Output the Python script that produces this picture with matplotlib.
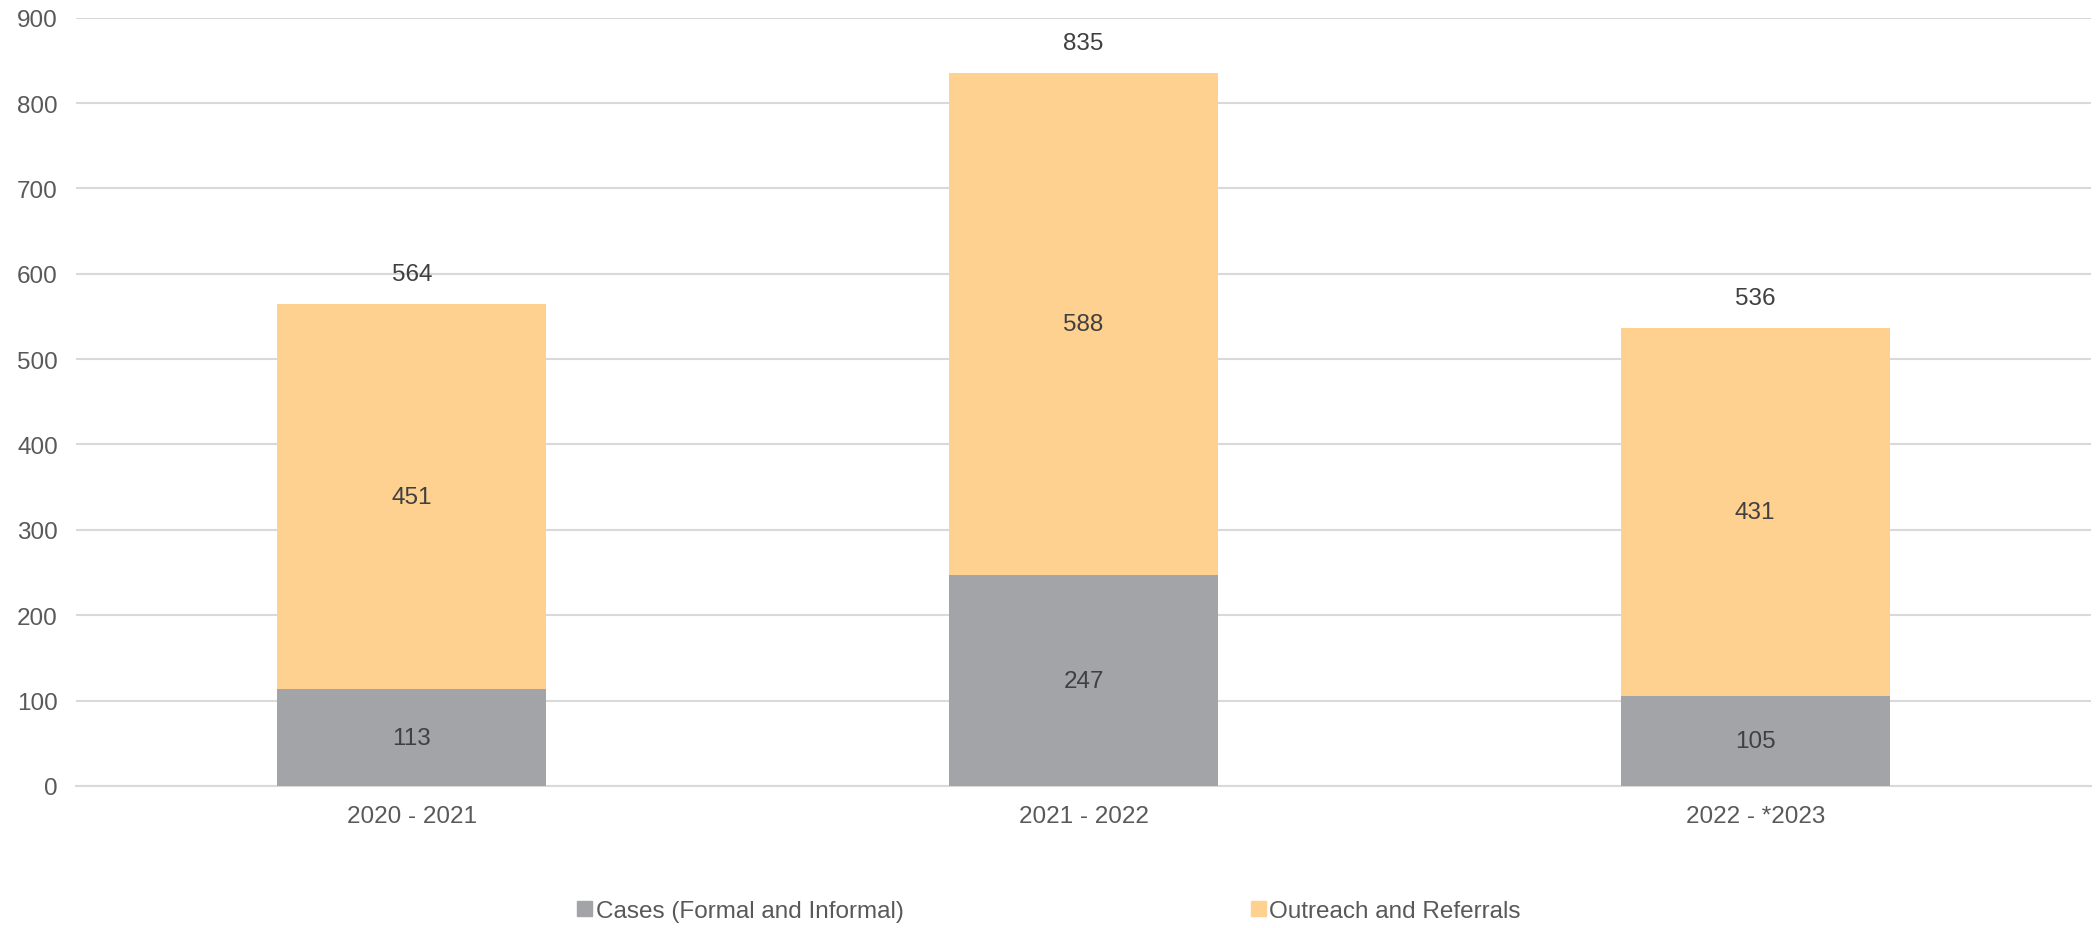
import matplotlib.pyplot as plt
import matplotlib.patches as mpatches
import numpy as np

plt.rcParams["font.family"] = ["Liberation Sans", "DejaVu Sans"]

years = ["2020 - 2021", "2021 - 2022", "2022 - *2023"]
cases = [113, 247, 105]
outreach = [451, 588, 431]
totals = [564, 835, 536]

GRAY = "#A2A4A8"
ORANGE = "#FED190"
GRID = "#D9D9D9"
TICK = "#595959"
LABEL = "#404040"
FS = 17.5

fig = plt.figure(figsize=(20.98, 9.29), dpi=100)
ax = fig.add_axes([0.0362, 0.1529, 0.9605, 0.827])

x = np.arange(len(years))
width = 0.4
b1 = ax.bar(x, cases, width, color=GRAY, zorder=3)
b2 = ax.bar(x, outreach, width, bottom=cases, color=ORANGE, zorder=3)

# segment values centred inside each stack piece
for rect, v in zip(b1, cases):
    ax.text(rect.get_x() + rect.get_width() / 2, v / 2, str(v),
            ha="center", va="center", fontsize=FS, color=LABEL, zorder=4)
for rect, c, v in zip(b2, cases, outreach):
    ax.text(rect.get_x() + rect.get_width() / 2, c + v / 2, str(v),
            ha="center", va="center", fontsize=FS, color=LABEL, zorder=4)
# totals above the stacks
for xi, t in zip(x, totals):
    ax.annotate(str(t), (xi, t), xytext=(0, 30), textcoords="offset pixels",
                ha="center", va="center", fontsize=FS, color=LABEL, zorder=4)

ax.set_xlim(-0.5, 2.5)
ax.set_ylim(0, 900)
ax.set_yticks(range(0, 901, 100))
ax.set_xticks(x)
ax.set_xticklabels(years)
ax.tick_params(axis="both", length=0, labelsize=FS, colors=TICK)
ax.tick_params(axis="y", pad=13)
ax.tick_params(axis="x", pad=14)
ax.grid(axis="y", color=GRID, linewidth=1.5, zorder=0)
for side in ["top", "right", "left"]:
    ax.spines[side].set_visible(False)
ax.spines["bottom"].set_color(GRID)
ax.spines["bottom"].set_linewidth(1.5)

handles = [mpatches.Patch(color=GRAY, label="Cases (Formal and Informal)"),
           mpatches.Patch(color=ORANGE, label="Outreach and Referrals")]
fig.legend(handles=handles, loc="center", bbox_to_anchor=(0.5, 0.018), ncol=2,
           frameon=False, fontsize=FS, handlelength=0.6, handleheight=0.6,
           handletextpad=0.15, columnspacing=14.3, labelcolor=TICK)

fig.savefig("out.png", dpi=100)
